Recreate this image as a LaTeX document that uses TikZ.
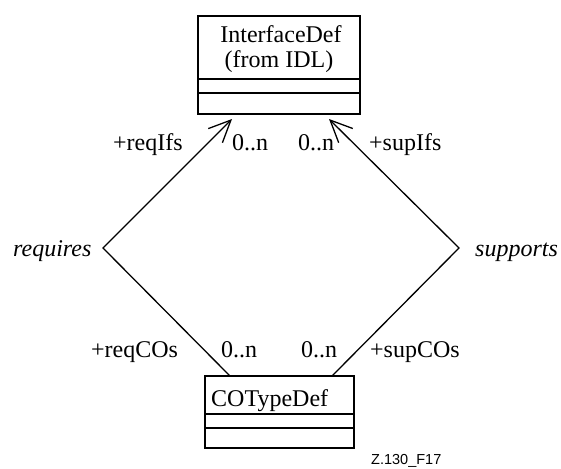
\documentclass[tikz,border=0pt]{standalone}
\usepackage{fontspec}
\setmainfont{Liberation Serif}
\newfontfamily\figfont{Liberation Sans}
\usetikzlibrary{arrows.meta}
\begin{document}
\begin{tikzpicture}[x=1pt,y=-1pt,
  classbox/.style={draw,line width=1.3pt,inner sep=0pt},
  assoc/.style={line width=1.3pt},
  navtip/.style={-{Straight Barb[length=22pt,width=20pt,line width=1.3pt]}},
  txt/.style={inner sep=0pt,font=\fontsize{24}{26}\selectfont},
  lbl/.style={txt,anchor=base west},
  divider/.style={line width=1.3pt}]
\useasboundingbox (0,0) rectangle (561,468);

% InterfaceDef class box
\node[classbox,minimum width=162pt,minimum height=98pt] (idef) at (279,65) {};
\draw[divider] (198,79) -- (360,79);
\draw[divider] (198,93) -- (360,93);
\node[txt,anchor=base] (idefname) at (281,43) {InterfaceDef};
\node[txt,anchor=base] (idefsrc) at (279,68) {(from IDL)};

% COTypeDef class box
\node[classbox,minimum width=149pt,minimum height=72pt] (cotd) at (279.5,412) {};
\draw[divider] (205,414) -- (354,414);
\draw[divider] (205,428) -- (354,428);
\node[lbl] (cotdname) at (211,406) {COTypeDef};

% association end points and bends
\coordinate (reqtip) at (232,119);
\coordinate (reqbend) at (103,248);
\coordinate (reqfoot) at (230,376);
\coordinate (suptip) at (329,119);
\coordinate (supbend) at (459,248);
\coordinate (supfoot) at (332,376);

\draw[assoc,navtip,line join=miter] (reqfoot) -- (reqbend) -- (reqtip);
\draw[assoc,navtip,line join=miter] (supfoot) -- (supbend) -- (suptip);

% role names, multiplicities and association names
\node[lbl] (reqifs) at (113,150) {+reqIfs};
\node[lbl] (m1) at (232,150) {0..n};
\node[lbl] (m2) at (298,150) {0..n};
\node[lbl] (supifs) at (369,150) {+supIfs};
\node[lbl] (requires) at (13,256) {\itshape requires};
\node[lbl] (supports) at (475,256) {\itshape supports};
\node[lbl] (reqcos) at (91,357) {+reqCOs};
\node[lbl] (m3) at (221,357) {0..n};
\node[lbl] (m4) at (301,357) {0..n};
\node[lbl] (supcos) at (370,357) {+supCOs};

\node[anchor=base west,inner sep=0pt,font=\figfont\fontsize{14.5}{16}\selectfont] (figid) at (371,464) {Z.130\_F17};
\end{tikzpicture}
\end{document}
